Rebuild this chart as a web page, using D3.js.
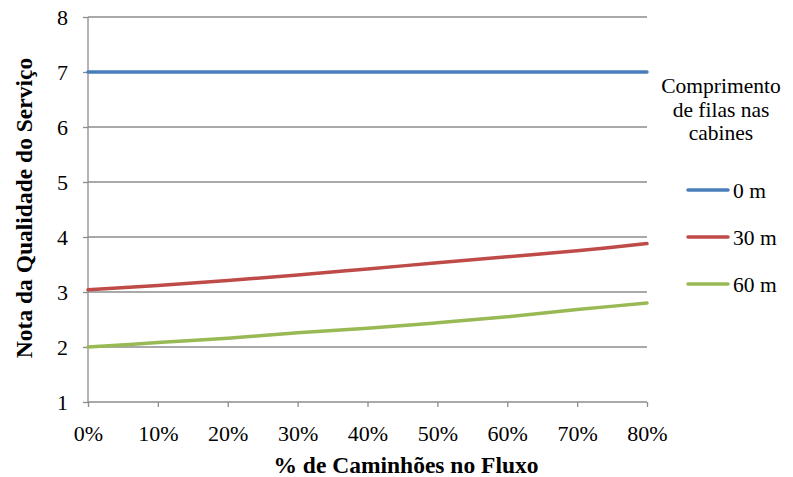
<!DOCTYPE html>
<html><head><meta charset="utf-8">
<script src="https://cdn.jsdelivr.net/npm/d3@7"></script>
<style>body{margin:0;background:#fff}svg{display:block}</style>
</head><body><svg id="c" width="793" height="477"></svg>
<script>
const categories = ["0%","10%","20%","30%","40%","50%","60%","70%","80%"];
const xValues = [0,10,20,30,40,50,60,70,80];
const series0m = [7,7,7,7,7,7,7,7,7];
const series30m = [3.04,3.12,3.21,3.31,3.42,3.53,3.64,3.75,3.88];
const series60m = [2.00,2.08,2.16,2.26,2.34,2.44,2.55,2.68,2.80];
const seriesNames = ["0 m","30 m","60 m"];
const yTicks = [1,2,3,4,5,6,7,8];
const colors = ["#4A7EBB","#BE4B48","#98B954"];
const legendTitle = ["Comprimento","de filas nas","cabines"];
const FONT = '"Liberation Serif"';

const svg = d3.select("#c");
const x = d3.scaleLinear().domain([0,80]).range([88,647]);
const y = d3.scaleLinear().domain([1,8]).range([402,17]);

svg.append("g").selectAll("line").data(yTicks.slice(1)).join("line")
  .attr("x1",88).attr("x2",647).attr("y1",d=>y(d)).attr("y2",d=>y(d))
  .attr("stroke","#8c8c8c").attr("stroke-width",1.3);

const ya = svg.append("g").attr("transform","translate(88,0)")
  .call(d3.axisLeft(y).tickValues(yTicks).tickSize(5).tickPadding(15).tickFormat(d3.format("d")));
ya.attr("font-family",null).attr("font-size",null);
ya.select(".domain").attr("stroke","#8c8c8c").attr("stroke-width",1.3).attr("d","M0,17V402");
ya.selectAll(".tick line").attr("stroke","#8c8c8c").attr("stroke-width",1.3);
ya.selectAll("text").style("font-size","22px").style("font-family",FONT).attr("fill","#000");

const xa = svg.append("g").attr("transform","translate(0,402)")
  .call(d3.axisBottom(x).tickValues(xValues).tickSize(5).tickPadding(18).tickFormat((d,i)=>categories[i]));
xa.attr("font-family",null).attr("font-size",null);
xa.select(".domain").attr("stroke","#8c8c8c").attr("stroke-width",1.3).attr("d","M88,0H647");
xa.selectAll(".tick line").attr("stroke","#8c8c8c").attr("stroke-width",1.3);
xa.selectAll("text").style("font-size","22px").style("font-family",FONT).attr("fill","#000");

const line = d3.line().x((d,i)=>x(xValues[i])).y(d=>y(d)).curve(d3.curveCatmullRom.alpha(0.5));
[series0m,series30m,series60m].forEach((s,k)=>{
  svg.append("path").datum(s).attr("d",line).attr("fill","none")
    .attr("stroke",colors[k]).attr("stroke-width",3.5).attr("stroke-linecap","round");
});

svg.append("text").attr("x",406).attr("y",473).attr("text-anchor","middle")
  .style("font-size","23.5px").style("font-weight","bold").style("font-family",FONT).text("% de Caminhões no Fluxo");
svg.append("text").attr("transform","translate(32,208) rotate(-90)").attr("text-anchor","middle")
  .style("font-size","23.5px").style("font-weight","bold").style("font-family",FONT).text("Nota da Qualidade do Serviço");

legendTitle.forEach((t,i)=>{
  svg.append("text").attr("x",721).attr("y",93+i*23.5).attr("text-anchor","middle")
    .style("font-size","21.5px").style("font-family",FONT).text(t);
});
seriesNames.forEach((n,i)=>{
  const yy = 190+i*47;
  svg.append("line").attr("x1",688).attr("x2",728).attr("y1",yy).attr("y2",yy)
    .attr("stroke",colors[i]).attr("stroke-width",3.5).attr("stroke-linecap","round");
  svg.append("text").attr("x",733).attr("y",yy+8).style("font-size","21.5px").style("font-family",FONT).text(n);
});
</script></body></html>
